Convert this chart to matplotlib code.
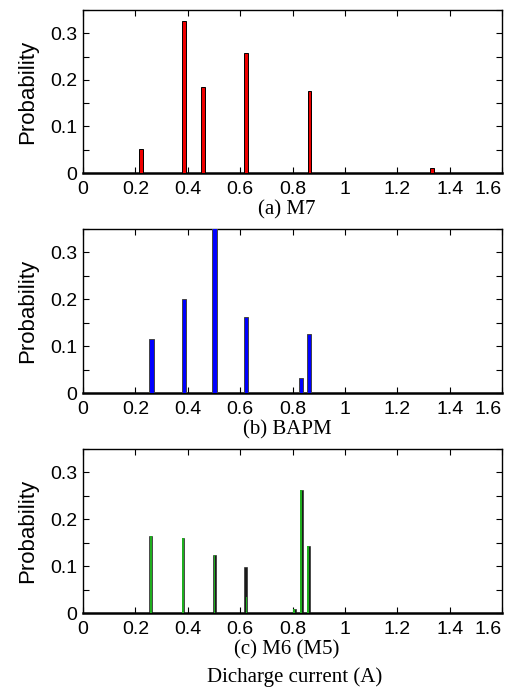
import matplotlib
matplotlib.use("Agg")
import matplotlib.pyplot as plt
from matplotlib.ticker import MultipleLocator

# Data
m7_x = [0.222, 0.385, 0.459, 0.622, 0.864, 1.332]
m7_p = [0.051, 0.326, 0.184, 0.257, 0.176, 0.011]

bapm_x = [0.262, 0.385, 0.503, 0.622, 0.833, 0.862]
bapm_p = [0.116, 0.201, 0.36, 0.163, 0.033, 0.126]

m6_x = [0.259, 0.382, 0.502, 0.620, 0.806, 0.833, 0.860]
m6_p = [0.165, 0.159, 0.124, 0.099, 0.008, 0.262, 0.142]

m5_x = [0.259, 0.382, 0.502, 0.625, 0.806, 0.833, 0.860]
m5_p = [0.165, 0.159, 0.124, 0.035, 0.008, 0.262, 0.142]

xticks = [0, 0.2, 0.4, 0.6, 0.8, 1.0, 1.2, 1.4, 1.6]
xticklabels = ["0", "0.2", "0.4", "0.6", "0.8", "1", "1.2", "1.4", "1.6"]
yticks = [0, 0.1, 0.2, 0.3]
yticklabels = ["0", "0.1", "0.2", "0.3"]
captions = ["(a) M7", "(b) BAPM", "(c) M6 (M5)"]
xlabel = "Dicharge current (A)"

W, H = 507, 689
fig = plt.figure(figsize=(W / 100, H / 100), dpi=100)

tops = [10, 229, 449]
bottoms = [173, 393, 613]
left, right = 83, 502

sans = "Liberation Sans"
serif = "Liberation Serif"

axes = []
for t, b in zip(tops, bottoms):
    ax = fig.add_axes([left / W, 1 - b / H, (right - left) / W, (b - t) / H])
    axes.append(ax)

axes[0].bar(m7_x, m7_p, width=0.013, color="#ee0000", edgecolor="black", linewidth=0.7, zorder=3)
axes[1].bar(bapm_x, bapm_p, width=0.017, color="#0000ff", edgecolor="#444444", linewidth=0.7, zorder=3)
axes[2].bar(m6_x, m6_p, width=0.011, color="#1a1a1a", edgecolor="#1a1a1a", linewidth=0.4, zorder=3)
axes[2].bar(m5_x, m5_p, width=0.006, color="#1fae1f", edgecolor="none", linewidth=0, zorder=4)

for ax, cap, b in zip(axes, captions, bottoms):
    ax.set_xlim(0, 1.6)
    ax.set_ylim(0, 0.35)
    ax.set_xticks(xticks)
    ax.set_xticklabels(xticklabels, fontfamily=sans, fontsize=14)
    ax.get_xticklabels()[-1].set_horizontalalignment("right")
    ax.set_yticks(yticks)
    ax.set_yticklabels(yticklabels, fontfamily=sans, fontsize=14)
    ax.yaxis.set_minor_locator(MultipleLocator(0.05))
    ax.tick_params(axis="both", which="both", direction="in", top=True, right=True,
                   length=4, width=0.8)
    ax.tick_params(axis="y", pad=4)
    ax.tick_params(axis="x", pad=6)
    ax.set_ylabel("Probability", fontfamily=sans, fontsize=16, labelpad=9)
    for s in ["top", "right", "left"]:
        ax.spines[s].set_linewidth(1.0)
    ax.spines["bottom"].set_linewidth(1.8)
    ax.text(287 / W, 1 - (b + 37) / H, cap, transform=fig.transFigure, ha="center", va="center",
            fontfamily=serif, fontsize=15)

fig.text(295 / W, 1 - 677 / H, xlabel, ha="center", va="center",
         fontfamily=serif, fontsize=15)

fig.savefig("out.png", dpi=100)
